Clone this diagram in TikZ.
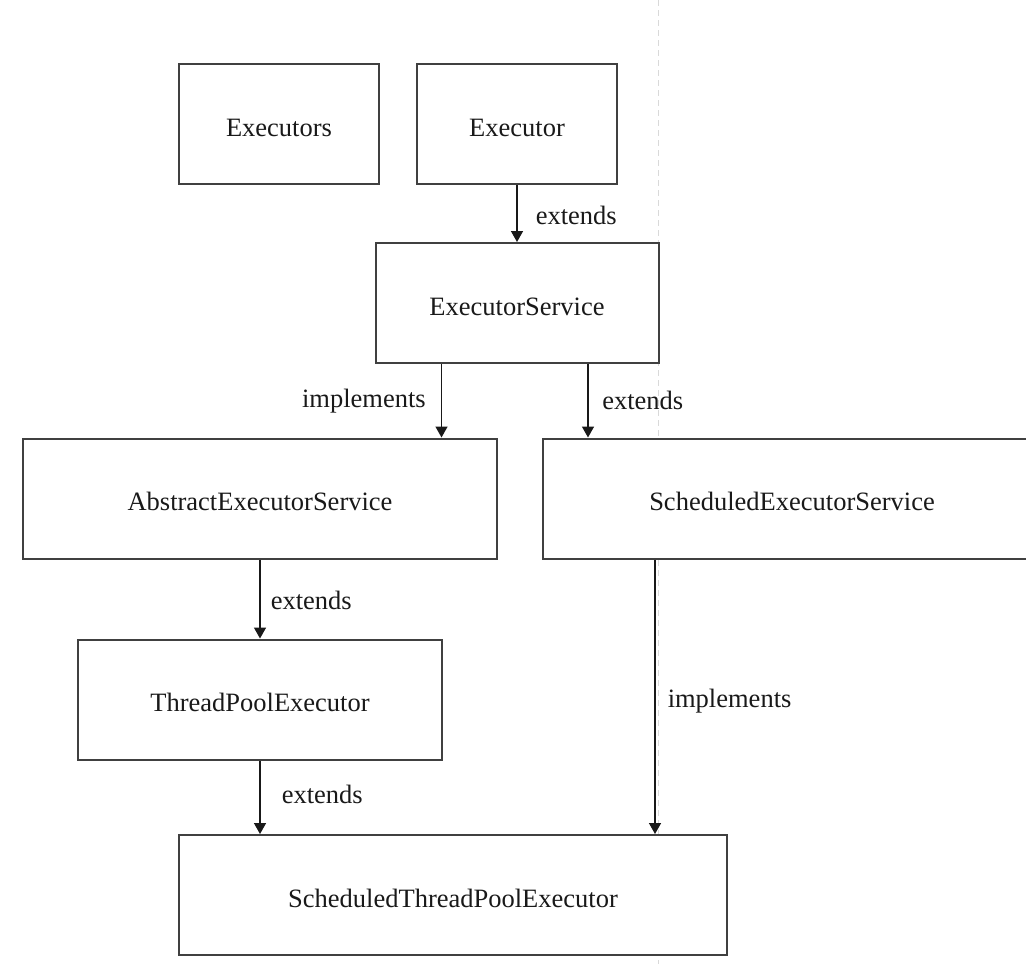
\documentclass[tikz,border=0pt]{standalone}
\usepackage{fontspec}
\setmainfont{Liberation Serif}
\usetikzlibrary{positioning,arrows.meta}
\tikzset{
  klasse/.style={draw=black!75,fill=white,line width=1pt,
    minimum width=#1,minimum height=60pt,inner sep=0pt,
    text height=12pt,text depth=0pt,% Text etwas tiefer setzen
    font=\fontsize{13.25pt}{16pt}\selectfont,text=black!90
  },
  klasse/.default=100pt,% voreingestellte Breite
  pfeil/.style={-{Triangle[length=5.5pt,width=6pt]},line width=.75pt,draw=black!90},
  beschr/.style={inner sep=0pt,font=\fontsize{13.25pt}{16pt}\selectfont,text=black!90},
  trenner/.style={black!15,line width=.5pt,dash pattern=on 3pt off 2pt}
}
\begin{document}
\begin{tikzpicture}[x=.5pt,y=-.5pt]
  \useasboundingbox (0,0) rectangle (1026,964);
  \clip (0,0) rectangle (1026,964);
% Seitenumbruch im Hintergrund
  \draw[trenner] (658,0) -- (658,964);
% Klassen
  \node[klasse] (executors) at (279,124) {Executors};
  \node[klasse,right=18pt of executors] (executor) {Executor};
  \node[klasse=141.5pt,below=28.5pt of executor] (es) {ExecutorService};
  \node[klasse=237pt] (aes) at (260,498.5) {AbstractExecutorService};
  \node[klasse=249pt] (ses) at (792,498.5) {ScheduledExecutorService};
  \node[klasse=182pt,below=39.5pt of aes] (tpe) {ThreadPoolExecutor};
  \node[klasse=274pt] (stpe) at (453,895) {ScheduledThreadPoolExecutor};
% Pfeile einzeichnen und beschriften
  \draw[pfeil] (executor.south) --
    node[beschr,pos=.53,right=9pt]{extends} (executor.south |- es.north);
  \draw[pfeil] ([xshift=-37.75pt]es.south) --
    node[beschr,pos=.5,left=7.5pt]{implements} ([xshift=-37.75pt]es.south |- aes.north);
  \draw[pfeil] ([xshift=35.5pt]es.south) --
    node[beschr,pos=.49,right=6.75pt]{extends} ([xshift=35.5pt]es.south |- ses.north);
  \draw[pfeil] (aes.south) --
    node[beschr,pos=.52,right=5pt]{extends} (tpe.north);
  \draw[pfeil] (tpe.south) --
    node[beschr,pos=.46,right=10.5pt]{extends} (tpe.south |- stpe.north);
  \draw[pfeil] ([xshift=-68.5pt]ses.south) --
    node[beschr,pos=.516,right=6pt]{implements} ([xshift=-68.5pt]ses.south |- stpe.north);
\end{tikzpicture}
\end{document}
